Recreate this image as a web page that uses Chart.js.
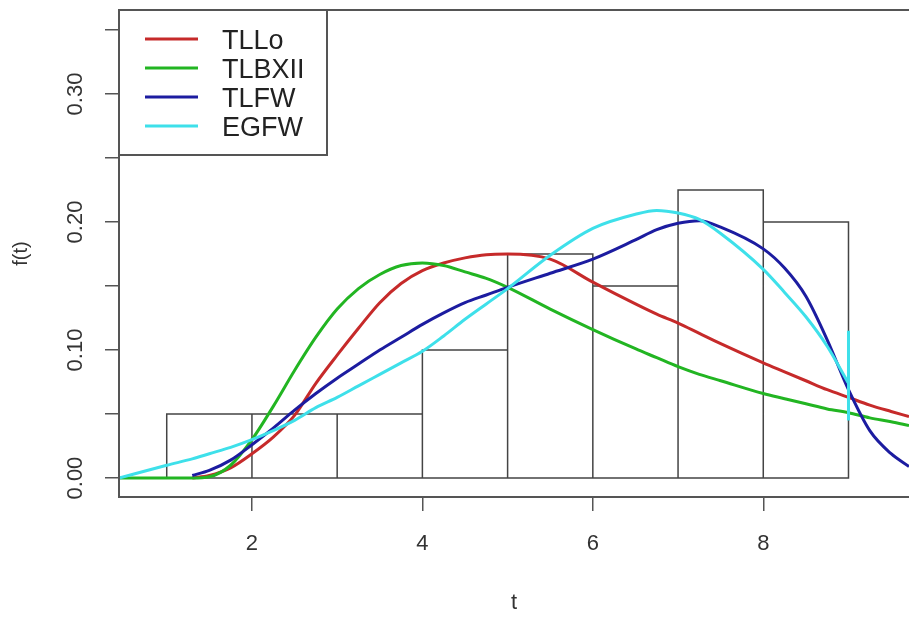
<!DOCTYPE html>
<html>
<head>
<meta charset="utf-8">
<script src="https://cdn.jsdelivr.net/npm/chart.js@4"></script>
<style>
  body { margin: 0; background: #fff; overflow: hidden; }
</style>
</head>
<body>
<canvas id="grafico" width="909" height="617"></canvas>
<script>
// histogram
var binEdges = [1, 2, 3, 4, 5, 6, 7, 8, 9];
var binDensity = [0.05, 0.05, 0.05, 0.10, 0.175, 0.15, 0.225, 0.20];

// fitted densities
var tGrid = [0.44, 1, 1.3, 1.5, 1.75, 2, 2.25, 2.5, 2.75, 3, 3.25, 3.5, 3.75, 4, 4.25, 4.5, 4.75, 5,
  5.5, 6, 6.5, 6.75, 7, 7.25, 7.5, 8, 8.25, 8.5, 8.75, 9, 9.25, 9.5, 9.71];
var fTLLo = [null, null, 0.000, 0.002, 0.008, 0.019, 0.032, 0.049, 0.074, 0.096, 0.117, 0.137, 0.152, 0.162, 0.168, 0.172, 0.1745, 0.175,
  0.171, 0.153, 0.136, 0.128, 0.121, 0.113, 0.105, 0.090, 0.083, 0.076, 0.069, 0.063, 0.057, 0.052, 0.048];
var fTLBXII = [0, 0, 0, 0.001, 0.010, 0.030, 0.056, 0.084, 0.110, 0.132, 0.148, 0.159, 0.166, 0.168, 0.166, 0.161, 0.156, 0.149,
  0.132, 0.116, 0.101, 0.094, 0.087, 0.081, 0.076, 0.066, 0.062, 0.058, 0.054, 0.051, 0.047, 0.044, 0.041];
var fTLFW = [null, null, 0.002, 0.006, 0.014, 0.026, 0.039, 0.053, 0.066, 0.078, 0.089, 0.100, 0.110, 0.120, 0.129, 0.137, 0.143, 0.149,
  0.160, 0.171, 0.186, 0.194, 0.199, 0.201, 0.196, 0.179, 0.164, 0.142, 0.108, 0.069, 0.037, 0.019, 0.009];
var fEGFW = [0, 0.010, 0.015, 0.019, 0.024, 0.030, 0.037, 0.045, 0.055, 0.063, 0.072, 0.081, 0.090, 0.099, 0.111, 0.124, 0.136, 0.148,
  0.174, 0.195, 0.206, 0.209, 0.207, 0.202, 0.191, 0.163, 0.145, 0.126, 0.103, 0.074, null, null, null];
// little vertical glitch of the EGFW line at t = 9
var egfwSpikeT = [9, 9];
var egfwSpikeF = [0.115, 0.045];

var xTicks = [2, 4, 6, 8];
var yTicks = [0, 0.05, 0.10, 0.15, 0.20, 0.25, 0.30, 0.35];
var yLabels = ['0.00', '', '0.10', '', '0.20', '', '0.30', ''];

var seriesNames = ['TLLo', 'TLBXII', 'TLFW', 'EGFW'];
var seriesColors = ['#c62a2a', '#22b522', '#1c1ca0', '#3ee0ea'];

function pontos(ts, fs) {
  return ts.map(function (t, i) { return { x: t, y: fs[i] }; });
}

// outline of the histogram rectangles
var histPts = [];
for (var i = 0; i < binDensity.length; i++) {
  histPts.push({ x: binEdges[i], y: 0 }, { x: binEdges[i], y: binDensity[i] },
    { x: binEdges[i + 1], y: binDensity[i] }, { x: binEdges[i + 1], y: 0 });
}
histPts.push({ x: binEdges[0], y: 0 });

function curva(idx, fs, ord) {
  return {
    label: seriesNames[idx],
    data: pontos(tGrid, fs),
    borderColor: seriesColors[idx],
    borderWidth: 3,
    pointRadius: 0,
    cubicInterpolationMode: 'monotone',
    fill: false,
    order: ord
  };
}

var data = {
  datasets: [
    { label: 'hist', data: histPts, borderColor: '#444', borderWidth: 1.5, pointRadius: 0, tension: 0, fill: false, order: 10 },
    curva(0, fTLLo, 4),
    curva(1, fTLBXII, 3),
    curva(2, fTLFW, 2),
    curva(3, fEGFW, 1),
    { label: 'spike', data: pontos(egfwSpikeT, egfwSpikeF), borderColor: seriesColors[3], borderWidth: 3, pointRadius: 0, tension: 0, order: 0 }
  ]
};

// R style box + legend
var caixaR = {
  id: 'caixaR',
  afterDatasetsDraw: function (chart) {
    var c = chart.ctx, a = chart.chartArea;
    c.save();
    c.strokeStyle = '#555';
    c.lineWidth = 2;
    c.beginPath();
    c.moveTo(a.right + 5, a.top); c.lineTo(a.left, a.top);
    c.lineTo(a.left, a.bottom); c.lineTo(a.right + 5, a.bottom);
    c.stroke();

    // legend
    var bx = a.left, by = a.top, bw = 208, bh = 145;
    c.fillStyle = '#fff';
    c.fillRect(bx, by, bw, bh);
    c.strokeRect(bx, by, bw, bh);
    c.font = '27px "Liberation Sans", Arial, sans-serif';
    c.textBaseline = 'middle';
    c.textAlign = 'left';
    for (var k = 0; k < seriesNames.length; k++) {
      var ly = by + 29 + k * 29;
      c.strokeStyle = seriesColors[k];
      c.lineWidth = 3;
      c.beginPath();
      c.moveTo(bx + 26, ly); c.lineTo(bx + 79, ly);
      c.stroke();
      c.fillStyle = '#222';
      c.fillText(seriesNames[k], bx + 103, ly + 3);
    }
    c.restore();
  }
};

var options = {
  responsive: false,
  animation: false,
  layout: { padding: { top: 10, left: 0, right: 0, bottom: 0 } },
  scales: {
    x: {
      type: 'linear',
      min: 0.44,
      max: 9.71,
      afterBuildTicks: function (s) { s.ticks = xTicks.map(function (v) { return { value: v }; }); },
      afterFit: function (s) { s.height = 120; s.paddingLeft = 0; s.paddingRight = 0; },
      border: { display: false },
      grid: { drawOnChartArea: false, drawTicks: true, tickLength: 14, color: '#555', lineWidth: 1.5 },
      ticks: {
        autoSkip: false, maxRotation: 0, padding: 20, color: '#333',
        font: { family: 'Liberation Sans', size: 22 },
        callback: function (v) { return String(v); }
      },
      title: { display: true, text: 't', color: '#333', font: { family: 'Liberation Sans', size: 22 }, padding: { top: 0, bottom: 1 } }
    },
    y: {
      min: -0.0148,
      max: 0.3656,
      afterBuildTicks: function (s) { s.ticks = yTicks.map(function (v) { return { value: v }; }); },
      afterFit: function (s) { s.width = 119; s.paddingTop = 0; s.paddingBottom = 0; },
      border: { display: false },
      grid: { drawOnChartArea: false, drawTicks: true, tickLength: 14, color: '#555', lineWidth: 1.5 },
      ticks: {
        autoSkip: false, minRotation: 90, maxRotation: 90, crossAlign: 'center', padding: 8, color: '#333',
        font: { family: 'Liberation Sans', size: 22 },
        callback: function (v, i) { return yLabels[i]; }
      },
      title: { display: true, text: 'f(t)', color: '#333', font: { family: 'Liberation Sans', size: 20 }, padding: { top: 9, bottom: 0 } }
    }
  },
  plugins: {
    legend: { display: false },
    tooltip: { enabled: false }
  }
};

var ctx = document.getElementById('grafico').getContext('2d');
var meuGrafico = new Chart(ctx, {
  type: 'line',
  data: data,
  options: options,
  plugins: [caixaR]
});
</script>
</body>
</html>
